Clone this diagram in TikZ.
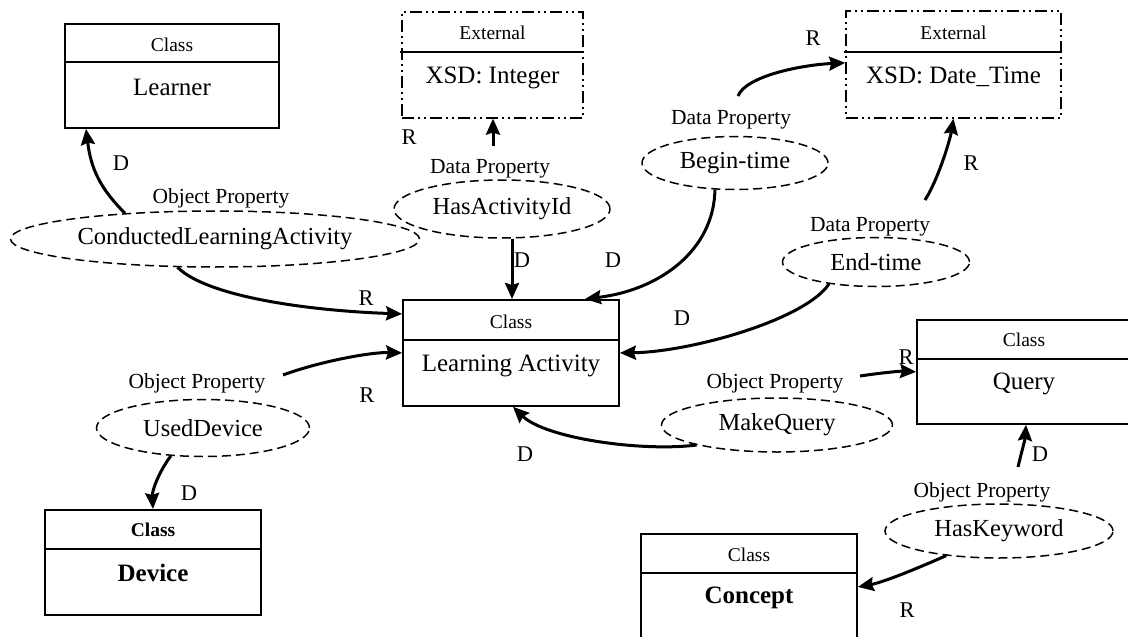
\documentclass[tikz,border=0pt]{standalone}
\usepackage{fontspec}
\setmainfont{Liberation Serif}
\usetikzlibrary{arrows.meta,shapes.geometric}
\tikzset{
  cbox/.style={draw, line width=1.8pt, rectangle, inner sep=0pt},
  ebox/.style={draw, line width=1.6pt, rectangle, inner sep=0pt, dash pattern=on 12pt off 4pt on 2pt off 4pt on 2pt off 4pt},
  divline/.style={line width=1.6pt},
  toptxt/.style={font=\fontsize{19.5}{22}\selectfont, inner sep=0pt},
  maintxt/.style={font=\fontsize{25}{30}\selectfont, inner sep=0pt},
  prop/.style={draw, ellipse, dash pattern=on 9pt off 5pt, line width=1.5pt, inner sep=0pt, font=\fontsize{24.5}{28}\selectfont},
  proplbl/.style={font=\fontsize{21.5}{24}\selectfont, inner sep=0pt},
  rdlbl/.style={font=\fontsize{22.5}{26}\selectfont, inner sep=0pt},
  arr/.style={line width=3pt, -{Stealth[length=16pt,width=14pt,inset=2pt]}},
}
\begin{document}
\begin{tikzpicture}[x=1pt,y=-1pt]
\useasboundingbox (0,0) rectangle (1128,637);
\clip (0,0) rectangle (1128,637);

% ---------- class boxes ----------
\node[cbox, minimum width=214pt, minimum height=104pt, anchor=north] (learner) at (172,23) {};
\draw[divline] (65,62) -- (279,62);
\node[toptxt] (learnerK) at (172,45) {Class};
\node[maintxt] (learnerN) at (172,87.5) {Learner};

\node[ebox, minimum width=181pt, minimum height=106pt, anchor=north] (xsdint) at (492.5,11) {};
\draw[divline] (400,52) -- (583,52);
\node[toptxt] (xsdintK) at (492.5,33) {External};
\node[maintxt] (xsdintN) at (492.5,77.5) {XSD: Integer};

\node[ebox, minimum width=215pt, minimum height=107pt, anchor=north] (xsddt) at (953.5,10) {};
\draw[divline] (844,52) -- (1061,52);
\node[toptxt] (xsddtK) at (953.5,33) {External};
\node[maintxt] (xsddtN) at (953.5,77) {XSD: Date\_Time};

\node[cbox, minimum width=216pt, minimum height=106pt, anchor=north] (la) at (511,299) {};
\draw[divline] (403,340) -- (619,340);
\node[toptxt] (laK) at (511,321.5) {Class};
\node[maintxt] (laN) at (511,366) {Learning Activity};

\node[cbox, minimum width=214pt, minimum height=104pt, anchor=north] (query) at (1024,319) {};
\draw[divline] (917,359) -- (1131,359);
\node[toptxt] (queryK) at (1024,340) {Class};
\node[maintxt] (queryN) at (1024,384) {Query};

\node[cbox, minimum width=216pt, minimum height=106pt, anchor=north] (concept) at (749,533) {};
\draw[divline] (641,573) -- (857,573);
\node[toptxt] (conceptK) at (749,555) {Class};
\node[maintxt, font=\fontsize{25}{30}\selectfont\bfseries] (conceptN) at (749,598) {Concept};

\node[cbox, minimum width=216pt, minimum height=105pt, anchor=north] (device) at (153,509) {};
\draw[divline] (45,549) -- (261,549);
\node[toptxt, font=\fontsize{19.5}{22}\selectfont\bfseries] (deviceK) at (153,530) {Class};
\node[maintxt, font=\fontsize{25}{30}\selectfont\bfseries] (deviceN) at (153,573) {Device};

% ---------- property ellipses ----------
\node[prop, minimum width=409pt, minimum height=56pt] (cla) at (215,239) {ConductedLearningActivity};
\node[proplbl] (claL) at (221,198) {Object Property};

\node[prop, minimum width=216pt, minimum height=58pt] (hai) at (502,209) {HasActivityId};
\node[proplbl] (haiL) at (490,169) {Data Property};

\node[prop, minimum width=186pt, minimum height=53pt] (bt) at (735,163) {Begin-time};
\node[proplbl] (btL) at (731,120) {Data Property};

\node[prop, minimum width=187pt, minimum height=49pt] (et) at (876,262) {End-time};
\node[proplbl] (etL) at (870,227) {Data Property};

\node[prop, minimum width=213pt, minimum height=57pt] (ud) at (203,428) {UsedDevice};
\node[proplbl] (udL) at (197,383.5) {Object Property};

\node[prop, minimum width=231pt, minimum height=54pt] (mq) at (777,425) {MakeQuery};
\node[proplbl] (mqL) at (775,383.5) {Object Property};

\node[prop, minimum width=228pt, minimum height=54pt] (hk) at (999,531) {HasKeyword};
\node[proplbl] (hkL) at (982,492) {Object Property};

% ---------- free arrow tails ----------
\coordinate (haiR) at (493,146);
\coordinate (btR) at (738,96);
\coordinate (etR) at (925,200);
\coordinate (udR) at (283,375);
\coordinate (mqR) at (860,376);
\coordinate (hkR) at (1018,467);

% ---------- connectors ----------
\draw[arr] (cla.164) .. controls +(-25,-25) and +(5,40) .. ([xshift=-86pt]learner.south);
\draw[arr] (cla.217) .. controls +(30,30) and +(-90,-3) .. ([yshift=39pt]la.west);
\draw[arr] (haiR) -- (haiR |- xsdint.south);
\draw[arr] ([xshift=10pt]hai.south) -- ([xshift=1pt]la.north);
\draw[arr] (bt.233) .. controls (714,250) and (660,290) .. ([xshift=74pt]la.north);
\draw[arr] (btR) .. controls (746,76) and (801,65) .. ([yshift=1.5pt]xsddt.west);
\draw[arr] (etR) .. controls (938,180) and (950,140) .. (xsddt.south);
\draw[arr] (et.205) .. controls (805,320) and (690,352) .. (la.east);
\draw[arr] (udR) .. controls (318,362) and (370,352) .. (la.west);
\draw[arr] (ud.221) .. controls (160,470) and (152,490) .. (device.north);
\draw[arr] (mq.194) .. controls (640,452) and (545,438) .. ([xshift=2pt]la.south);
\draw[arr] (mqR) .. controls (880,373) and (900,371) .. (query.west);
\draw[arr] (hkR) .. controls (1022,450) and (1025,440) .. ([xshift=2pt]query.south);
\draw[arr] (hk.205) .. controls (925,565) and (885,582) .. (concept.east);

% ---------- D / R labels ----------
\node[rdlbl] (l1) at (121,163) {D};
\node[rdlbl] (l2) at (366,298) {R};
\node[rdlbl] (l3) at (409,137) {R};
\node[rdlbl] (l4) at (522,260) {D};
\node[rdlbl] (l5) at (613,260) {D};
\node[rdlbl] (l6) at (813,38) {R};
\node[rdlbl] (l7) at (971,163) {R};
\node[rdlbl] (l8) at (682,318) {D};
\node[rdlbl] (l9) at (367,395) {R};
\node[rdlbl] (l10) at (189,493) {D};
\node[rdlbl] (l11) at (525,454) {D};
\node[rdlbl] (l12) at (906,357) {R};
\node[rdlbl] (l13) at (1040,454) {D};
\node[rdlbl] (l14) at (907,610) {R};
\end{tikzpicture}
\end{document}
